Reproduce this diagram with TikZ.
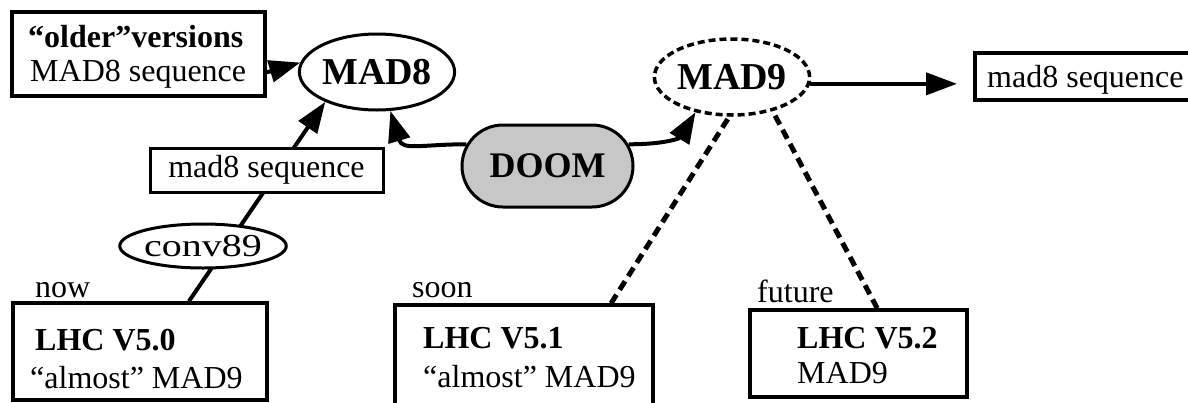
\documentclass[tikz,border=0pt]{standalone}
\usepackage{fontspec}
\setmainfont{Liberation Serif}
\usepackage{graphicx}
\usetikzlibrary{arrows.meta,shapes.geometric,shapes.misc,calc,backgrounds}
\begin{document}
\begin{tikzpicture}[x=1pt,y=-1pt,
  every node/.style={inner sep=0pt},
  fs/.style={font=\fontsize{32}{36}\selectfont},
  bigb/.style={font=\fontsize{38}{40}\selectfont\bfseries},
  boxn/.style={draw,rectangle,line width=3.5pt},
  elln/.style={draw,ellipse,line width=3pt},
  lbl/.style={fs,anchor=base west},
  blbl/.style={lbl,font=\fontsize{32}{36}\selectfont\bfseries},
  conn/.style={line width=4pt},
  arr/.style={conn,-{Triangle[length=31pt,width=22pt]}},
  dashconn/.style={line width=5pt,dash pattern=on 10pt off 6pt}]
\useasboundingbox (0,0) rectangle (1188,402);

% top row
\node[boxn,minimum width=253pt,minimum height=84pt] (older) at (138.5,54) {};
\node[blbl] (olderA) at (28,47) {“older”versions};
\node[lbl] (olderB) at (30,81) {MAD8 sequence};

\node[elln,bigb,minimum width=146pt,minimum height=76pt] (mad8) at (377,72) {MAD8};
\node[elln,bigb,line width=3.5pt,dash pattern=on 7pt off 4pt,minimum width=154pt,minimum height=76pt] (mad9) at (732,77) {MAD9};

\node[boxn,minimum width=217pt,minimum height=47pt] (rseq) at (1083.5,76.5) {};
\node[lbl] (rseqt) at (987,87) {mad8 sequence};
\coordinate (rtip) at (957,83);

% middle
\node[boxn,line width=3pt,fill=white,fs,minimum width=233pt,minimum height=44pt] (midseq) at (266.5,170) {mad8 sequence};
\node[elln,fill=white,fs,minimum width=160pt,minimum height=44pt] (conv) at (203,246) {\scalebox{1.25}[1]{conv89}};
\node[draw,rounded rectangle,line width=3pt,fill=black!22,minimum width=171pt,minimum height=82pt,font=\fontsize{36}{38}\selectfont\bfseries] (doom) at (547.5,166) {DOOM};

% bottom row
\node[lbl] (now) at (35,297) {now};
\node[boxn,minimum width=254pt,minimum height=97pt] (v50) at (140,351.5) {};
\node[blbl] (v50a) at (35,350) {LHC V5.0};
\node[lbl] (v50b) at (30,388) {“almost” MAD9};

\node[lbl] (soon) at (412,297) {soon};
\node[boxn,minimum width=258pt,minimum height=100pt] (v51) at (524,355) {};
\node[blbl] (v51a) at (423,348) {LHC V5.1};
\node[lbl] (v51b) at (423,387) {“almost” MAD9};

\node[lbl] (future) at (757,302) {future};
\node[boxn,minimum width=217pt,minimum height=87pt] (v52) at (858.5,353.5) {};
\node[blbl] (v52a) at (797,348) {LHC V5.2};
\node[lbl] (v52b) at (797,383) {MAD9};

% connectors
\begin{pgfonlayer}{background}
\draw[arr] ($(v50.north west)!0.69!(v50.north east)$) -- (mad8.-150);
\end{pgfonlayer}
\draw[arr] ($(older.south east)!0.29!(older.north east)$) -- (mad8.173);
\draw[arr] (doom.165) .. controls +(-45,0) and +(12,40) .. (mad8.-71);
\draw[arr] (doom.15) .. controls +(40,0) and +(-15,25) .. (mad9.-136);
\draw[arr] (mad9.-5) -- (mad9.-5 -| rtip);
\draw[dashconn] ($(v51.north west)!0.833!(v51.north east)$) -- (mad9.-94);
\draw[dashconn] ($(v52.north west)!0.585!(v52.north east)$) -- (mad9.-40);
\end{tikzpicture}
\end{document}
